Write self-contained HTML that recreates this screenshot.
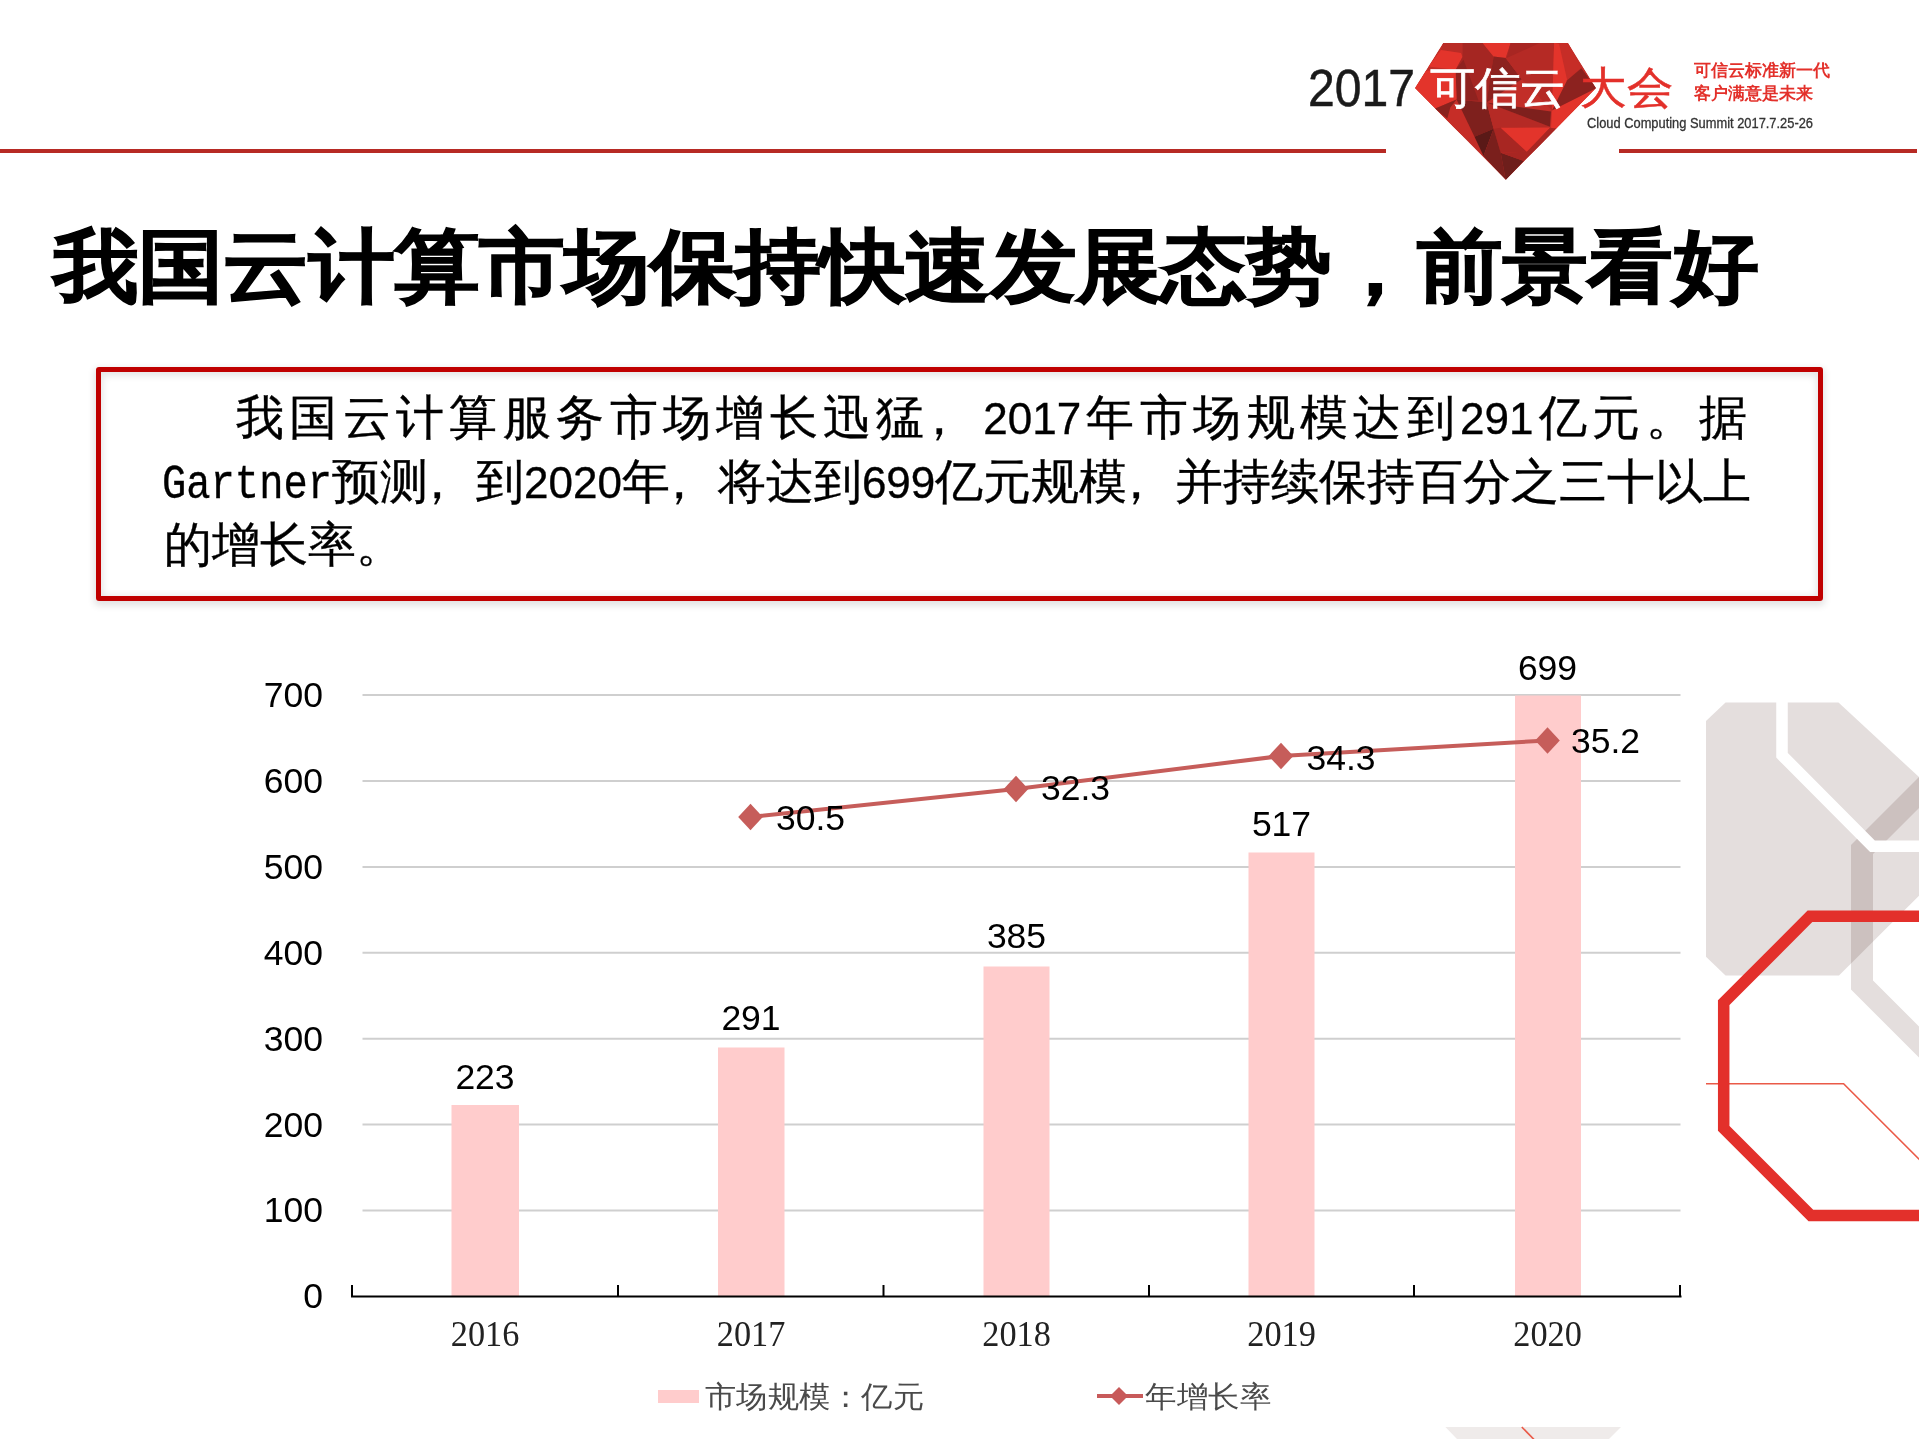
<!DOCTYPE html>
<html><head><meta charset="utf-8">
<style>
html,body{margin:0;padding:0;}
body{width:1919px;height:1439px;position:relative;overflow:hidden;background:#fff;font-family:"Liberation Sans",sans-serif;}
.abs{position:absolute;white-space:nowrap;}
svg{position:absolute;left:0;top:0;}
.dg{font-size:44px;}
.sx{display:inline-block;transform-origin:0 0;}
.mo{font-family:"Liberation Mono",monospace;font-size:48px;display:inline-block;width:170px;}
.cm{position:relative;left:-15px;}
.bt{-webkit-text-stroke:0.35px #000;}
</style></head><body>
<svg width="1919" height="1439" viewBox="0 0 1919 1439">
  <!-- header lines -->
  <rect x="0" y="149" width="1386" height="4" fill="#b72a24"/>
  <rect x="1619" y="149" width="298" height="4" fill="#b72a24"/>
  <!-- diamond -->
  <defs><clipPath id="dia"><polygon points="1443,43 1568,43 1596,88 1506,180 1415,88"/></clipPath></defs>
  <g clip-path="url(#dia)">
      <polygon points="1443.2,42.8 1568.2,42.8 1596.4,88.4 1505.7,180.1 1414.5,88.4" fill="#c22e28"/>
      <polygon points="1443.2,42.8 1462.5,42.8 1462.5,57.1 1461.0,53.0 1441.0,50.0" fill="#b92c26"/>
      <polygon points="1441.0,50.0 1461.0,53.0 1462.5,57.1 1455.6,69.7 1428.3,66.5" fill="#e3342b"/>
      <polygon points="1462.5,42.8 1482.5,42.8 1493.6,56.6 1490.6,75.3 1486.6,102.5 1456.6,99.4 1455.6,69.7 1462.5,57.1" fill="#a52622"/>
      <polygon points="1455.6,69.7 1463.5,59.8 1478.5,100.5 1456.6,99.4" fill="#8f221f"/>
      <polygon points="1482.5,42.8 1510.7,42.8 1505.7,58.1 1493.6,56.6" fill="#e3342b"/>
      <polygon points="1493.6,56.6 1505.7,58.1 1521.8,79.3 1486.6,102.5 1490.6,75.3" fill="#8c221f"/>
      <polygon points="1510.7,42.8 1554.1,42.8 1552.1,110.5 1521.8,79.3 1505.7,58.1" fill="#b52a25"/>
      <polygon points="1510.7,42.8 1540.0,42.8 1506.7,58.1" fill="#a82622"/>
      <polygon points="1554.1,42.8 1568.2,42.8 1581.3,68.2 1567.2,80.3 1552.1,110.5" fill="#c62d27"/>
      <polygon points="1554.1,42.8 1559.1,44.0 1567.2,80.3 1552.1,110.5" fill="#e3342b"/>
      <polygon points="1581.3,68.2 1596.4,88.4 1552.1,110.5 1567.2,80.3" fill="#8c221f"/>
      <polygon points="1596.4,88.4 1552.1,110.5 1551.0,128.7 1558.1,128.7" fill="#e3342b"/>
      <polygon points="1414.5,88.4 1425.9,70.7 1455.6,69.7 1456.6,99.4 1434.8,108.8" fill="#e3342b"/>
      <polygon points="1434.8,108.8 1456.6,99.4 1474.5,136.7 1466.4,138.7 1430.1,108.5" fill="#c62d27"/>
      <polygon points="1434.8,108.8 1456.6,99.4 1450.3,107.5 1447.3,118.6" fill="#8a221e"/>
      <polygon points="1456.6,99.4 1486.6,102.5 1493.6,128.7 1474.5,136.7" fill="#7e201d"/>
      <polygon points="1486.6,102.5 1550.0,126.7 1493.6,128.7" fill="#b52a25"/>
      <polygon points="1486.6,102.5 1551.0,111.5 1550.0,126.7" fill="#7e201d"/>
      <polygon points="1493.6,128.7 1500.7,127.7 1526.9,151.8 1500.7,152.8" fill="#a82622"/>
      <polygon points="1500.7,127.7 1550.0,127.7 1526.9,151.8" fill="#e3342b"/>
      <polygon points="1474.5,136.7 1493.6,128.7 1483.5,155.9" fill="#5a1917"/>
      <polygon points="1493.6,128.7 1500.7,152.8 1505.7,180.1 1483.5,155.9" fill="#7a1f1c"/>
      <polygon points="1500.7,152.8 1523.8,160.9 1505.7,180.1" fill="#6e1e1b"/>
      <polygon points="1526.9,151.8 1550.0,127.7 1558.1,128.7 1523.8,160.9 1500.7,152.8" fill="#a82622"/>
    </g>
  <!-- right decorations -->
  <polygon points="1706,721 1725.5,702.5 1838.5,702.5 1960,815 1960,855 1839,975.6 1725.5,975.6 1706,956.7" fill="#e4dedd"/>
  <polyline points="1990,721.5 1862,849.5 1862,985 1990,1113" fill="none" stroke="#e4dedd" stroke-width="22" stroke-linejoin="miter" style="mix-blend-mode:multiply"/>
  <polyline points="1782,680 1782,755.25 1872.5,846.25 1930,846.25" fill="none" stroke="#fff" stroke-width="11.5" stroke-linejoin="miter"/>
  <polyline points="1706,1083.7 1843.6,1083.7 1930,1170.1" fill="none" stroke="#ea5a48" stroke-width="1.6"/>
  <polyline points="1930,916.3 1810,916.3 1723.7,1002.7 1723.7,1128.4 1810.9,1215.6 1930,1215.6" fill="none" stroke="#e3302b" stroke-width="11.5" stroke-linejoin="miter"/>
  <polygon points="1445.4,1427 1621,1427 1609,1439 1457,1439" fill="#efebea"/>
  <line x1="1521.8" y1="1427" x2="1534.5" y2="1440" stroke="#ea5a48" stroke-width="1.6"/>
  <!-- chart gridlines -->
  <g stroke="#cfcfcf" stroke-width="2">
    <line x1="362.5" y1="695.1" x2="1680.5" y2="695.1"/>
    <line x1="362.5" y1="781" x2="1680.5" y2="781"/>
    <line x1="362.5" y1="866.9" x2="1680.5" y2="866.9"/>
    <line x1="362.5" y1="952.8" x2="1680.5" y2="952.8"/>
    <line x1="362.5" y1="1038.7" x2="1680.5" y2="1038.7"/>
    <line x1="362.5" y1="1124.6" x2="1680.5" y2="1124.6"/>
    <line x1="362.5" y1="1210.5" x2="1680.5" y2="1210.5"/>
  </g>
  <!-- bars -->
  <g fill="#ffcccc">
    <rect x="451.5" y="1105" width="67.5" height="191"/>
    <rect x="718" y="1047.5" width="66.5" height="248.5"/>
    <rect x="983.5" y="966.5" width="66" height="329.5"/>
    <rect x="1248.5" y="852.5" width="66" height="443.5"/>
    <rect x="1515" y="695.5" width="66" height="600.5"/>
  </g>
  <!-- axis -->
  <g stroke="#000" stroke-width="2" fill="none">
    <line x1="351" y1="1296.4" x2="1681.5" y2="1296.4"/>
    <line x1="352" y1="1285" x2="352" y2="1296"/>
    <line x1="618" y1="1285" x2="618" y2="1296"/>
    <line x1="883.5" y1="1285" x2="883.5" y2="1296"/>
    <line x1="1149" y1="1285" x2="1149" y2="1296"/>
    <line x1="1414" y1="1285" x2="1414" y2="1296"/>
    <line x1="1680" y1="1285" x2="1680" y2="1296"/>
  </g>
  <!-- line series -->
  <polyline points="750.5,817 1016,789 1281,756 1547.5,740.5" fill="none" stroke="#c65d5a" stroke-width="4"/>
  <g fill="#c65d5a">
    <polygon points="750.5,803.7 762.8,817 750.5,830.3 738.2,817"/>
    <polygon points="1016,775.7 1028.3,789 1016,802.3 1003.7,789"/>
    <polygon points="1281,742.7 1293.3,756 1281,769.3 1268.7,756"/>
    <polygon points="1547.5,727.2 1559.8,740.5 1547.5,753.8 1535.2,740.5"/>
  </g>
  <!-- legend -->
  <rect x="658" y="1390" width="41" height="13" fill="#ffcccc"/>
  <line x1="1097" y1="1396" x2="1143" y2="1396" stroke="#c85a5a" stroke-width="4"/>
  <polygon points="1119,1387 1128,1396 1119,1405 1110,1396" fill="#c85a5a"/>
  <!-- y labels -->
  <g font-family="Liberation Sans" font-size="35.5" fill="#000" text-anchor="end">
    <text x="323" y="707">700</text>
    <text x="323" y="793">600</text>
    <text x="323" y="879">500</text>
    <text x="323" y="965">400</text>
    <text x="323" y="1051">300</text>
    <text x="323" y="1136.5">200</text>
    <text x="323" y="1222">100</text>
    <text x="323" y="1308">0</text>
  </g>
  <!-- data labels -->
  <g font-family="Liberation Sans" font-size="35.5" fill="#000" text-anchor="middle">
    <text x="485" y="1088.7">223</text>
    <text x="751" y="1030.3">291</text>
    <text x="1016.5" y="948.4">385</text>
    <text x="1281.5" y="836">517</text>
    <text x="1547.5" y="680.4">699</text>
  </g>
  <g font-family="Liberation Sans" font-size="35.5" fill="#000">
    <text x="776" y="829.8">30.5</text>
    <text x="1041" y="800.4">32.3</text>
    <text x="1306.5" y="769.5">34.3</text>
    <text x="1571" y="753.4">35.2</text>
  </g>
  <!-- x labels -->
  <g font-family="Liberation Serif" font-size="35.5" fill="#222" text-anchor="middle" textLength="68.5">
    <text x="485" y="1345.6" textLength="68.5" lengthAdjust="spacingAndGlyphs">2016</text>
    <text x="751" y="1345.6" textLength="68.5" lengthAdjust="spacingAndGlyphs">2017</text>
    <text x="1016.5" y="1345.6" textLength="68.5" lengthAdjust="spacingAndGlyphs">2018</text>
    <text x="1281.5" y="1345.6" textLength="68.5" lengthAdjust="spacingAndGlyphs">2019</text>
    <text x="1547.5" y="1345.6" textLength="68.5" lengthAdjust="spacingAndGlyphs">2020</text>
  </g>
  <g font-family="Liberation Sans" font-size="30" fill="#4a4a4a">
    <text x="705" y="1407" textLength="219" lengthAdjust="spacingAndGlyphs">市场规模：亿元</text>
    <text x="1145" y="1407" textLength="126" lengthAdjust="spacingAndGlyphs">年增长率</text>
  </g>
</svg>
<div class="abs" id="title" style="left:52.8px;top:213px;font-size:85.4px;font-weight:bold;color:#000;-webkit-text-stroke:1.3px #000;letter-spacing:0.25px;transform:scaleY(0.935);transform-origin:0 13px;">我国云计算市场保持快速发展态势，前景看好</div>
<div id="box" style="position:absolute;left:96px;top:367px;width:1717px;height:224px;border:5px solid #c00000;border-radius:3px;box-shadow:0 3px 7px 2px rgba(0,0,0,0.11), inset 0 2px 7px 2px rgba(0,0,0,0.10);"></div>
<div id="l1" class="abs bt" style="left:236px;top:386px;width:1511px;font-size:48px;line-height:64px;color:#000;text-align:justify;text-align-last:justify;">我国云计算服务市场增长迅猛<span class="cm">，</span><span class="dg">2017</span>年市场规模达到<span class="dg">291</span>亿元。据</div>
<div id="l2" class="abs bt" style="left:162px;top:450px;width:1581px;font-size:48px;line-height:64px;color:#000;text-align:justify;text-align-last:justify;"><span class="mo"><span class="sx" style="transform:scaleX(0.843)">Gartner</span></span>预测<span class="cm">，</span>到<span class="dg">2020</span>年<span class="cm">，</span>将达到<span class="dg">699</span>亿元规模<span class="cm">，</span>并持续保持百分之三十以上</div>
<div id="l3" class="abs bt" style="left:164px;top:513px;font-size:48px;line-height:64px;color:#000;">的增长率。</div>
<svg width="1919" height="200" viewBox="0 0 1919 200" style="position:absolute;left:0;top:0">
  <text x="1308" y="106" font-family="Liberation Sans" font-size="52" fill="#1a1a1a" stroke="#1a1a1a" stroke-width="0.5" textLength="107" lengthAdjust="spacingAndGlyphs">2017</text>
  <text x="1429.5" y="103" font-size="44" fill="#fff" stroke="#fff" stroke-width="0.7" textLength="136" lengthAdjust="spacingAndGlyphs">可信云</text>
  <text x="1580" y="103" font-size="44" fill="#e3302a" stroke="#e3302a" stroke-width="0.5" textLength="93" lengthAdjust="spacingAndGlyphs">大会</text>
  <text x="1694" y="76" font-size="17" font-weight="bold" fill="#e3302a" textLength="136" lengthAdjust="spacingAndGlyphs">可信云标准新一代</text>
  <text x="1694" y="99" font-size="17" font-weight="bold" fill="#e3302a" textLength="119" lengthAdjust="spacingAndGlyphs">客户满意是未来</text>
  <text x="1587" y="127.5" font-family="Liberation Sans" font-size="14" fill="#333" stroke="#333" stroke-width="0.3" textLength="226" lengthAdjust="spacingAndGlyphs">Cloud Computing Summit 2017.7.25-26</text>
</svg>
</body></html>
